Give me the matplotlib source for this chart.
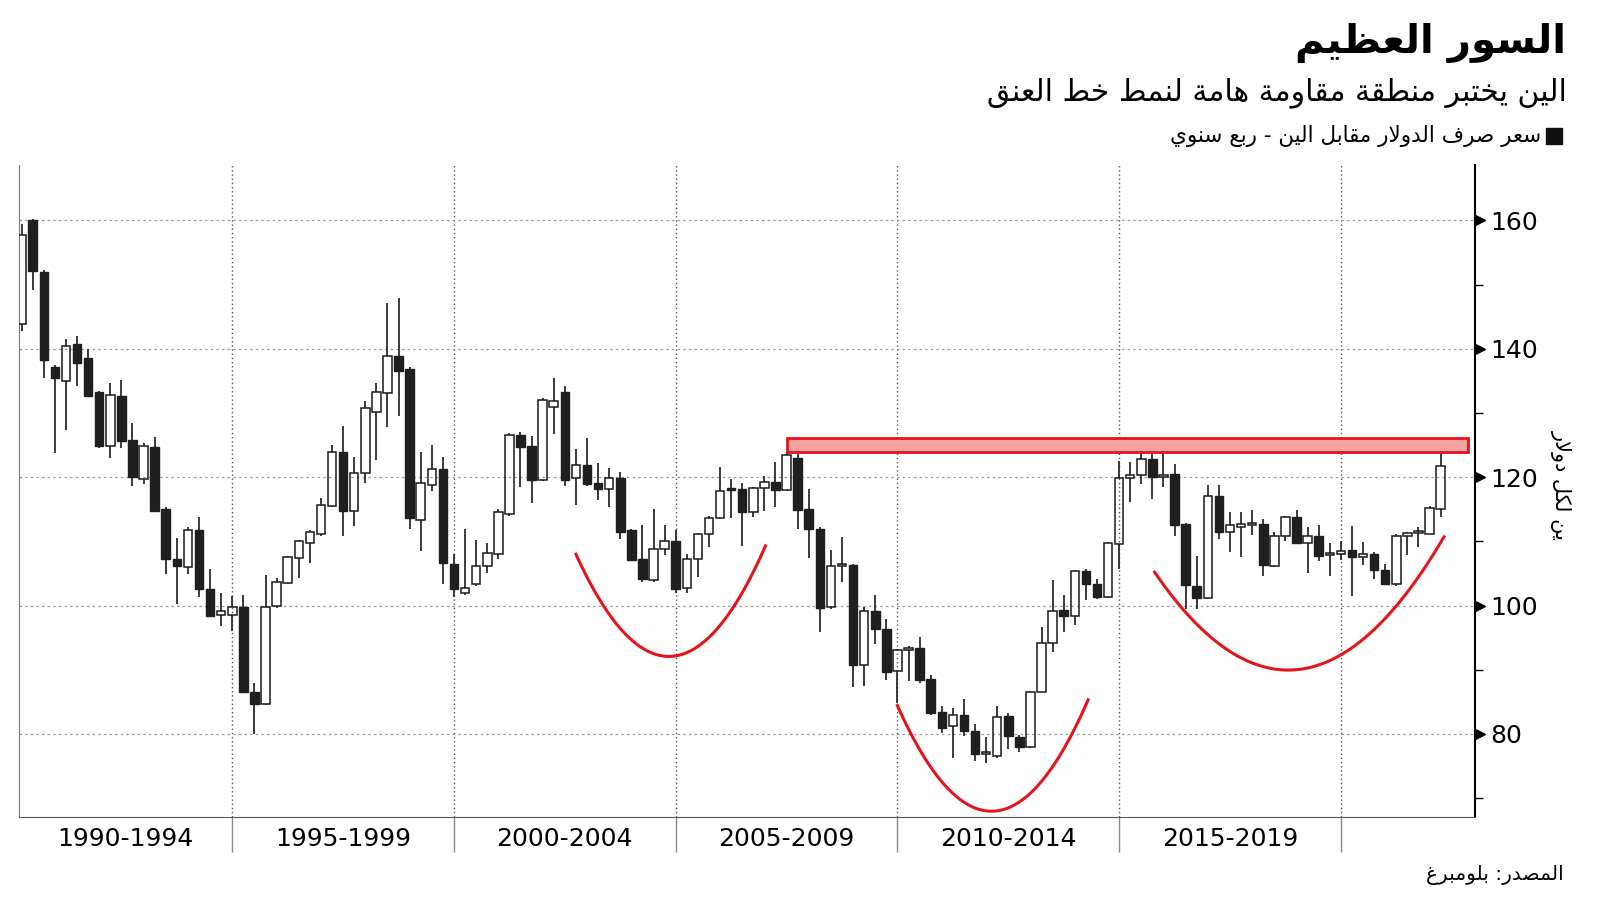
import numpy as np
import matplotlib
matplotlib.use("Agg")
import matplotlib.pyplot as plt
import matplotlib.transforms as mtransforms
from matplotlib.patches import Rectangle

plt.rcParams['font.family'] = ['DejaVu Sans']

# USD/JPY quarterly candles, 1990 Q1 .. 2022 Q1
opens = [143.9, 160.0, 151.9, 137.1, 135.0, 140.8, 138.5, 133.3, 124.9, 132.7,
         125.8, 119.7, 124.7, 115.1, 107.3, 106.0, 111.8, 102.6, 98.5, 98.6,
         99.8, 86.6, 84.7, 99.9, 103.5, 107.4, 109.8, 111.1, 115.5, 123.9,
         114.7, 120.6, 130.1, 133.1, 138.9, 136.8, 113.3, 118.8, 121.2, 106.5,
         102.0, 103.3, 106.1, 108.1, 114.3, 126.6, 124.9, 119.6, 130.9, 133.2,
         119.8, 121.9, 119.1, 118.2, 119.9, 111.7, 107.2, 104.0, 108.8, 110.0,
         102.7, 107.2, 111.1, 113.6, 118.1, 118.1, 114.5, 118.3, 119.3, 118.0,
         123.0, 115.0, 112.0, 99.7, 106.2, 106.3, 90.7, 99.1, 96.4, 89.8,
         93.0, 93.4, 88.5, 83.4, 81.3, 82.9, 80.5, 76.9, 76.6, 82.8,
         79.5, 77.9, 86.6, 94.2, 99.3, 98.3, 105.4, 103.3, 101.3, 109.6,
         119.8, 120.3, 122.8, 120.0, 120.5, 112.7, 103.1, 101.2, 117.0, 111.4,
         112.2, 112.6, 112.7, 106.1, 110.8, 113.8, 109.8, 110.9, 107.9, 108.1,
         108.6, 107.6, 108.1, 105.6, 103.3, 110.9, 111.3, 111.2, 115.1]
highs = [159.5, 160.3, 152.3, 137.5, 141.6, 142.0, 140.0, 133.5, 134.7, 135.1,
         128.4, 125.4, 126.2, 115.3, 110.6, 112.3, 113.8, 105.7, 101.9, 101.5,
         101.6, 88.0, 104.8, 104.3, 107.7, 110.2, 111.8, 116.7, 125.0, 127.9,
         123.1, 131.8, 134.7, 147.1, 147.9, 137.1, 124.0, 125.0, 123.1, 108.1,
         111.9, 110.2, 109.8, 115.1, 126.9, 127.1, 126.4, 132.4, 135.4, 134.2,
         124.4, 126.1, 122.2, 121.4, 120.8, 111.9, 112.6, 115.0, 112.6, 111.8,
         108.0, 111.3, 113.9, 121.6, 119.7, 119.1, 118.4, 120.2, 122.4, 124.0,
         123.9, 118.1, 112.3, 108.7, 110.7, 106.5, 99.7, 101.7, 97.9, 93.3,
         93.7, 95.1, 89.1, 84.4, 84.1, 85.4, 81.5, 79.5, 84.3, 83.2,
         79.9, 86.7, 96.7, 103.9, 101.7, 105.5, 105.7, 104.1, 109.9, 122.5,
         122.4, 126.0, 125.6, 124.0, 122.0, 112.8, 107.7, 118.8, 118.8, 114.6,
         114.6, 114.9, 113.5, 111.4, 114.0, 114.9, 112.3, 112.5, 109.7, 110.1,
         112.4, 109.9, 108.3, 106.4, 111.1, 111.4, 112.2, 115.5, 125.5]
lows = [142.8, 149.1, 135.4, 123.8, 127.4, 134.2, 132.6, 124.6, 123.0, 124.6,
        118.7, 119.0, 114.5, 104.9, 100.3, 104.9, 101.3, 98.2, 96.8, 96.1,
        86.3, 80.0, 84.5, 99.6, 103.3, 104.3, 106.7, 110.9, 115.3, 110.8,
        112.4, 119.1, 122.7, 127.8, 129.5, 112.0, 108.5, 117.9, 103.4, 101.4,
        101.7, 103.0, 105.0, 107.2, 113.9, 118.5, 116.0, 119.4, 126.8, 118.6,
        115.7, 118.7, 116.4, 115.4, 110.3, 106.9, 103.7, 103.7, 107.9, 101.9,
        101.9, 104.5, 109.1, 113.5, 113.6, 109.2, 113.8, 114.8, 115.4, 117.9,
        111.9, 107.4, 95.9, 99.5, 103.7, 87.3, 87.4, 94.0, 88.4, 84.8,
        88.3, 88.0, 82.9, 80.2, 76.2, 79.7, 75.8, 75.4, 76.2, 77.6,
        77.2, 77.8, 86.5, 92.8, 95.9, 96.9, 100.9, 101.0, 101.2, 105.7,
        116.2, 118.9, 116.6, 118.5, 110.8, 99.4, 99.4, 101.0, 110.3, 108.4,
        107.6, 111.0, 104.6, 106.0, 110.1, 109.6, 105.1, 107.0, 104.6, 107.1,
        101.5, 106.3, 104.2, 103.2, 103.1, 107.8, 109.1, 111.1, 113.8]
closes = [157.8, 152.2, 138.2, 135.5, 140.5, 137.8, 132.7, 124.8, 132.8, 125.7,
          120.1, 124.8, 114.7, 107.3, 106.2, 111.8, 102.6, 98.3, 99.2, 99.7,
          86.5, 84.7, 99.8, 103.6, 107.6, 110.0, 111.5, 115.7, 123.9, 114.7,
          120.6, 130.8, 133.2, 138.9, 136.6, 113.6, 119.1, 121.2, 106.6, 102.5,
          102.7, 106.1, 108.2, 114.5, 126.6, 124.7, 119.5, 132.0, 131.9, 119.6,
          121.9, 118.9, 118.1, 119.8, 111.5, 107.1, 104.2, 108.8, 110.0, 102.6,
          107.3, 111.1, 113.6, 117.9, 118.0, 114.5, 118.3, 119.2, 118.0, 123.4,
          114.9, 111.9, 99.6, 106.2, 106.3, 90.7, 99.1, 96.4, 89.6, 93.0,
          93.4, 88.4, 83.3, 80.9, 82.9, 80.5, 76.8, 77.0, 82.7, 79.7,
          77.9, 86.6, 94.2, 99.1, 98.3, 105.4, 103.3, 101.3, 109.7, 119.8,
          120.3, 122.8, 120.0, 120.4, 112.6, 103.2, 101.1, 117.0, 111.4, 112.5,
          112.7, 112.7, 106.3, 110.9, 113.8, 109.7, 110.9, 107.7, 108.0, 108.5,
          107.6, 108.1, 105.6, 103.3, 110.9, 111.3, 111.4, 115.2, 121.8]

period_labels = ['1990-1994', '1995-1999', '2000-2004', '2005-2009',
                 '2010-2014', '2015-2019']

# resistance zone and the three bowls of the head-and-shoulders pattern
zone_x = [69.0, 130.5]
zone_y = [123.9, 126.1]
bowls = [([50.0, 58.0, 67.1], [108.0, 92.1, 109.3]),
         ([79.0, 87.0, 96.2], [84.4, 68.0, 85.3]),
         ([102.2, 115.0, 128.3], [105.2, 90.0, 110.7])]

txt_title = 'السور العظيم'
txt_sub = 'الين يختبر منطقة مقاومة هامة لنمط خط العنق'
txt_legend = 'سعر صرف الدولار مقابل الين - ربع سنوي'
txt_ylabel = 'ين لكل دولار'
txt_source = 'المصدر: بلومبرغ'


# minimal arabic shaping (matplotlib has no shaping / bidi)
AR = 'ءآأؤإئابةتثجحخدذرزسشصضطظعغفقكلمنهوىي'
NF = [1, 2, 2, 2, 2, 4, 2, 4, 2, 4, 4, 4, 4, 4, 2, 2, 2, 2, 4, 4,
      4, 4, 4, 4, 4, 4, 4, 4, 4, 4, 4, 4, 4, 2, 2, 4]
FORMS = {}
_cp = 0xFE80
for _ch, _n in zip(AR, NF):
    FORMS[_ch] = [chr(_cp + k) for k in range(_n)]
    _cp += _n
LAMALEF = {'آ': 0xFEF5, 'أ': 0xFEF7, 'إ': 0xFEF9, 'ا': 0xFEFB}


def ar(text):
    out = []
    i = 0
    prev_joins = False
    while i < len(text):
        ch = text[i]
        if ch not in FORMS:
            out.append(ch)
            prev_joins = False
            i += 1
            continue
        if ch == 'ل' and i + 1 < len(text) and text[i + 1] in LAMALEF:
            out.append(chr(LAMALEF[text[i + 1]] + (1 if prev_joins else 0)))
            prev_joins = False
            i += 2
            continue
        f = FORMS[ch]
        jp = prev_joins and len(f) >= 2
        jn = len(f) == 4 and i + 1 < len(text) and text[i + 1] in FORMS
        if jp and jn:
            out.append(f[3])
        elif jp:
            out.append(f[1])
        elif jn:
            out.append(f[2])
        else:
            out.append(f[0])
        prev_joins = jn
        i += 1
    return ''.join(out)[::-1]


fig = plt.figure(figsize=(16, 9.01), dpi=100)
ax = fig.add_axes([0.01213, 0.0929, 0.90975, 0.72364])

x = np.arange(len(opens))
o = np.array(opens)
h = np.array(highs)
l = np.array(lows)
c = np.array(closes)
top = np.maximum(o, c)
bot = np.minimum(o, c)
up = c >= o

ax.vlines(x, top, h, color='#2b2b2b', lw=1.3, zorder=3)
ax.vlines(x, l, bot, color='#2b2b2b', lw=1.3, zorder=3)
hgt = np.maximum(top - bot, 0.25)
ax.bar(x[up], hgt[up], bottom=bot[up], width=0.77, facecolor='none',
       edgecolor='#1a1a1a', linewidth=1.1, zorder=4)
ax.bar(x[~up], hgt[~up], bottom=bot[~up], width=0.77, facecolor='#1f1f1f',
       edgecolor='#1f1f1f', linewidth=1.0, zorder=4)

ax.add_patch(Rectangle((zone_x[0], zone_y[0]), zone_x[1] - zone_x[0],
                       zone_y[1] - zone_y[0], facecolor='#f6a3a3',
                       edgecolor='#e5141b', lw=2, zorder=5))

for bx, by in bowls:
    p = np.polyfit(bx, by, 2)
    xs = np.linspace(bx[0], bx[-1], 200)
    ax.plot(xs, np.polyval(p, xs), color='#e5141b', lw=2.2, zorder=5)

ax.set_xlim(-0.2, 131.1)
ax.set_ylim(67.0, 168.6)

# x axis: separators between 5-year blocks, labels centred in blocks
seps = [19 + 20 * k for k in range(len(period_labels))]
edges = [-0.2] + seps
centers = [(edges[k] + edges[k + 1]) / 2 for k in range(len(period_labels))]
ax.set_xticks(seps)
ax.set_xticklabels([''] * len(seps))
ax.set_xticks(centers, minor=True)
ax.set_xticklabels(period_labels, minor=True)
ax.tick_params(axis='x', which='major', length=25, width=1, color='#8a8a8a')
ax.tick_params(axis='x', which='minor', length=0, pad=7, labelsize=18)
ax.xaxis.grid(True, which='major', ls=(0, (1, 2)), color='#555555', lw=1)

ax.yaxis.tick_right()
ax.set_yticks([80, 100, 120, 140, 160])
ax.set_yticks([70, 90, 110, 130, 150], minor=True)
ax.tick_params(axis='y', which='major', length=0, pad=11, labelsize=18)
ax.tick_params(axis='y', which='minor', length=6, width=1, color='black')
ax.yaxis.grid(True, which='major', ls=(0, (2, 2.5)), color='#9a9a9a', lw=0.9)
ax.set_axisbelow(True)

trans = mtransforms.blended_transform_factory(ax.transAxes, ax.transData)
ax.plot([1.0035] * 5, [80, 100, 120, 140, 160], ls='none', marker='>',
        ms=7, color='black', transform=trans, clip_on=False)

ax.spines['top'].set_visible(False)
ax.spines['left'].set_color('#7a7a7a')
ax.spines['bottom'].set_color('#555555')
ax.spines['right'].set_color('black')
ax.spines['right'].set_linewidth(1.5)

fig.text(0.9756, 0.4617, ar(txt_ylabel), rotation=270, ha='center',
         va='center', fontsize=15)

fig.text(0.979, 1 - 43 / 901, ar(txt_title), ha='right', va='center',
         fontsize=29, fontweight='bold')
fig.text(0.979, 1 - 93 / 901, ar(txt_sub), ha='right', va='center',
         fontsize=21.5)
fig.text(0.963, 1 - 136 / 901, ar(txt_legend), ha='right', va='center',
         fontsize=15.5)
fig.add_artist(Rectangle((1546 / 1600, 1 - 144 / 901), 16 / 1600, 16 / 901,
                         transform=fig.transFigure, color='#111111'))
fig.text(0.977, 1 - 875 / 901, ar(txt_source), ha='right', va='center',
         fontsize=14.5)

fig.savefig('out.png', dpi=100)
